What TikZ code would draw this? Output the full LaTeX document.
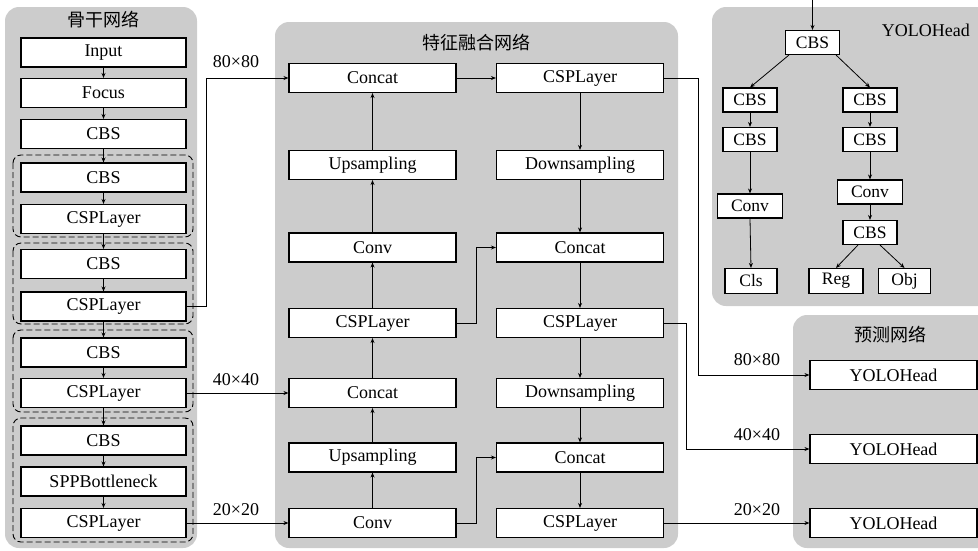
\documentclass[tikz,border=0pt]{standalone}
\usepackage{fontspec}
\setmainfont{Liberation Serif}
\newfontfamily\cjk{Noto Sans CJK SC}
\usetikzlibrary{arrows.meta}
\begin{document}
\begin{tikzpicture}[x=1pt,y=-1pt,
 panel/.style={fill=black!20, draw=none, rounded corners=14pt},
 box/.style={draw, fill=white, line width=1.1pt, inner sep=0pt, font=\fontsize{18}{20}\selectfont},
 bb/.style={box, minimum width=165pt, minimum height=29pt},
 mb/.style={box, minimum width=167pt, minimum height=29pt},
 sb/.style={box, minimum height=24pt, font=\fontsize{17.5}{20}\selectfont},
 grp/.style={draw, line width=0.9pt, dash pattern=on 6pt off 3pt, rounded corners=8pt},
 arr/.style={line width=0.8pt, -{Stealth[length=5pt,width=4pt]}},
 lbl/.style={font=\fontsize{18}{20}\selectfont, inner sep=0pt},
 ttl/.style={font=\cjk\fontsize{18}{20}\selectfont, inner sep=0pt}
]
\useasboundingbox (0,0) rectangle (978,550);
% panels
\fill[panel] (5,7) rectangle (197,548);
\fill[panel] (275,22) rectangle (678,548);
\fill[panel] (712,7) rectangle (1000,306);
\fill[panel] (793,315) rectangle (1000,548);
% titles
\node[ttl] (t1) at (103,20) {骨干网络};
\node[ttl] (t2) at (476,43) {特征融合网络};
\node[ttl] (t3) at (890,335) {预测网络};
\node[lbl, anchor=east] (t4) at (970,30) {YOLOHead};
% dashed groups
\draw[grp] (13,155) rectangle (193,237);
\draw[grp] (13,243) rectangle (193,324);
\draw[grp] (13,330) rectangle (193,412);
\draw[grp] (13,418) rectangle (193,542);
% backbone
\node[bb] (b1) at (103.5,52.5) {Input};
\node[bb] (b2) at (103.5,93) {Focus};
\node[bb] (b3) at (103.5,134) {CBS};
\node[bb] (b4) at (103.5,177.5) {CBS};
\node[bb] (b5) at (103.5,219) {CSPLayer};
\node[bb] (b6) at (103.5,264) {CBS};
\node[bb] (b7) at (103.5,306.5) {CSPLayer};
\node[bb] (b8) at (103.5,352.5) {CBS};
\node[bb] (b9) at (103.5,393) {CSPLayer};
\node[bb] (b10) at (103.5,440.5) {CBS};
\node[bb] (b11) at (103.5,481.5) {SPPBottleneck};
\node[bb] (b12) at (103.5,523) {CSPLayer};
\foreach \a/\b in {b1/b2,b2/b3,b3/b4,b4/b5,b5/b6,b6/b7,b7/b8,b8/b9,b9/b10,b10/b11,b11/b12}
  \draw[arr] (\a.south) -- (\b.north);
% middle left column
\node[mb] (ml1) at (372.5,78) {Concat};
\node[mb] (ml2) at (372.5,165) {Upsampling};
\node[mb] (ml3) at (372.5,247.5) {Conv};
\node[mb] (ml4) at (372.5,323) {CSPLayer};
\node[mb] (ml5) at (372.5,393) {Concat};
\node[mb] (ml6) at (372.5,457.5) {Upsampling};
\node[mb] (ml7) at (372.5,523) {Conv};
% middle right column
\node[mb] (mr1) at (580,78) {CSPLayer};
\node[mb] (mr2) at (580,165) {Downsampling};
\node[mb] (mr3) at (580,247.5) {Concat};
\node[mb] (mr4) at (580,323) {CSPLayer};
\node[mb] (mr5) at (580,393) {Downsampling};
\node[mb] (mr6) at (580,457.5) {Concat};
\node[mb] (mr7) at (580,523) {CSPLayer};
\foreach \a/\b in {ml7/ml6,ml6/ml5,ml5/ml4,ml4/ml3,ml3/ml2,ml2/ml1}
  \draw[arr] (\a.north) -- (\b.south);
\foreach \a/\b in {mr1/mr2,mr2/mr3,mr3/mr4,mr4/mr5,mr5/mr6,mr6/mr7}
  \draw[arr] (\a.south) -- (\b.north);
\draw[arr] (ml1.east) -- (mr1.west);
\draw[arr] (ml4.east) -- ++(20,0) |- (mr3.west);
\draw[arr] (ml7.east) -- ++(20,0) |- (mr6.west);
% backbone to middle
\draw[arr] (b7.east) -- ++(20,0) |- (ml1.west);
\draw[arr] (b9.east) -- (ml5.west);
\draw[arr] (b12.east) -- (ml7.west);
\node[lbl] (l1) at (236,62) {80×80};
\node[lbl] (l2) at (236,380) {40×40};
\node[lbl] (l3) at (236,510) {20×20};
% prediction
\node[mb] (y1) at (893.5,375) {YOLOHead};
\node[mb] (y2) at (893.5,449) {YOLOHead};
\node[mb] (y3) at (893.5,523) {YOLOHead};
\draw[arr] (mr1.east) -- (698,78) |- (y1.west);
\draw[arr] (mr4.east) -- (686,323) |- (y2.west);
\draw[arr] (mr7.east) -- (y3.west);
\node[lbl] (l4) at (757,360) {80×80};
\node[lbl] (l5) at (757,435) {40×40};
\node[lbl] (l6) at (757,510) {20×20};
% YOLOHead detail
\coordinate (in) at (812.5,0);
\node[sb, minimum width=54pt] (h0) at (812.5,42.5) {CBS};
\node[sb, minimum width=54pt] (hl1) at (750,100) {CBS};
\node[sb, minimum width=54pt] (hr1) at (870,100) {CBS};
\node[sb, minimum width=54pt] (hl2) at (750,139.5) {CBS};
\node[sb, minimum width=54pt] (hr2) at (870,139.5) {CBS};
\node[sb, minimum width=65pt] (hlc) at (750,206) {Conv};
\node[sb, minimum width=65pt] (hrc) at (870,192) {Conv};
\node[sb, minimum width=54pt] (hr3) at (870,232.5) {CBS};
\node[sb, minimum width=52pt, minimum height=25pt] (cls) at (751,281) {Cls};
\node[sb, minimum width=54pt, minimum height=25pt] (reg) at (836,281) {Reg};
\node[sb, minimum width=52pt, minimum height=25pt] (obj) at (904.5,281) {Obj};
\draw[arr] (in) -- (h0.north);
\draw[arr] ([xshift=4pt]h0.south west) -- (hl1.north);
\draw[arr] ([xshift=-4pt]h0.south east) -- (hr1.north);
\draw[arr] (hl1.south) -- (hl2.north);
\draw[arr] (hl2.south) -- (hlc.north);
\draw[arr] (hlc.south) -- (cls.north);
\draw[arr] (hr1.south) -- (hr2.north);
\draw[arr] (hr2.south) -- (hrc.north);
\draw[arr] (hrc.south) -- (hr3.north);
\draw[arr] ([xshift=-12pt]hr3.south) -- (reg.north);
\draw[arr] ([xshift=10pt]hr3.south) -- (obj.north);
\end{tikzpicture}
\end{document}
